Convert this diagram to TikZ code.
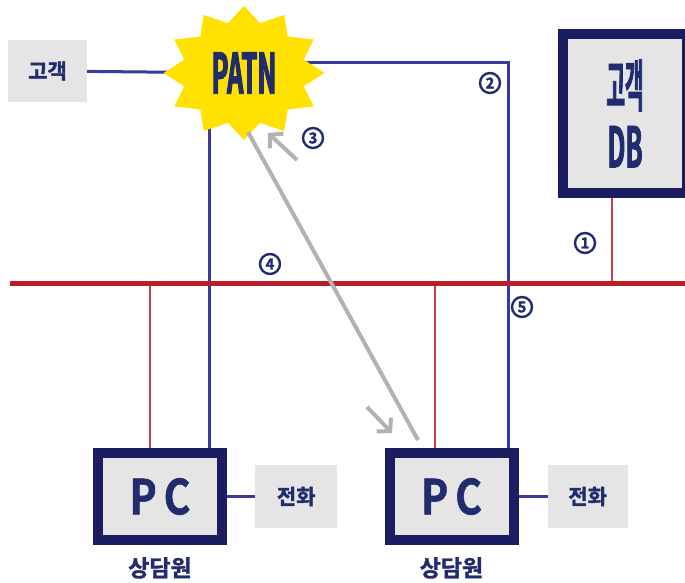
\documentclass[tikz,border=0pt]{standalone}
\usepackage{fontspec}
\usetikzlibrary{shapes.geometric, arrows.meta, backgrounds, positioning}

\newfontfamily\krfont{Noto Sans CJK KR Bold}[FakeBold=1.6]
\newfontfamily\krnarrow{Noto Sans CJK KR Bold}[FakeStretch=0.45, FakeBold=1.5]
\newfontfamily\patnfont{Noto Sans CJK KR Bold}[FakeStretch=0.38, FakeBold=1.5]
\newfontfamily\pcfont{Noto Sans CJK KR Bold}[FakeStretch=0.85, FakeBold=1.2]

\definecolor{navytext}{RGB}{32,44,110}
\definecolor{boxframe}{RGB}{28,28,96}
\definecolor{boxgray}{RGB}{229,229,229}
\definecolor{linkblue}{RGB}{58,58,158}
\definecolor{busred}{RGB}{183,30,42}
\definecolor{tapred}{RGB}{200,62,82}
\definecolor{signalgray}{RGB}{178,178,178}
\definecolor{staryellow}{RGB}{255,226,0}

\begin{document}
\begin{tikzpicture}[
    x=1pt, y=1pt,
    graybox/.style={fill=boxgray, inner sep=0pt, text=navytext, font=\krfont\fontsize{21}{24}\selectfont},
    pcbox/.style={draw=boxframe, line width=10pt, fill=boxgray, minimum width=124pt, minimum height=87pt, inner sep=0pt, text=navytext, font=\pcfont\fontsize{48}{52}\selectfont},
    dbbox/.style={draw=boxframe, line width=10pt, fill=boxgray, minimum width=124pt, minimum height=159pt, inner sep=0pt, align=center, text=navytext, font=\krnarrow\fontsize{56}{61}\selectfont},
    patnstar/.style={star, star points=12, star point ratio=1.3, fill=staryellow, minimum size=134pt, inner sep=0pt, text=navytext, font=\patnfont\fontsize{56}{60}\selectfont},
    caption/.style={text=navytext, inner sep=0pt, font=\krfont\fontsize{23}{26}\selectfont},
    numtag/.style={circle, draw=navytext, line width=2.4pt, fill=white, minimum size=20pt, inner sep=0pt, text=navytext, font=\krfont\fontsize{15}{15}\selectfont},
    link/.style={draw=linkblue, line width=3pt},
    bus/.style={draw=busred, line width=5pt},
    tap/.style={draw=tapred, line width=1.5pt},
    signal/.style={draw=signalgray, line width=4pt},
    sigarrow/.style={signal, -{Straight Barb[length=9pt, width=20pt]}}
]
   \useasboundingbox (0,0) rectangle (685,583);

   % Nodes
   \node[graybox, minimum width=79pt, minimum height=62pt] (cust) at (47.5,512) {고객};
   \begin{scope}[shift={(244,510)}, xscale=1.2]
     \node[patnstar, transform shape] (patn) at (0,0) {PATN};
   \end{scope}
   \node[dbbox] (db) at (625,469.5) {\scalebox{0.8}[1]{고객}\\DB};

   \node[pcbox] (pc1) at (160,86.5) {P\hspace{7pt}C};
   \node[pcbox] (pc2) at (451.5,86.5) {P\hspace{7pt}C};
   \node[graybox, minimum width=82pt, minimum height=63pt, right=28pt of pc1] (tel1) {전화};
   \node[graybox, minimum width=80pt, minimum height=63pt, right=29pt of pc2] (tel2) {전화};
   \node[caption, below=12pt of pc1] (agent1) {상담원};
   \node[caption, below=12pt of pc2] (agent2) {상담원};

   % Tap points and corners
   \coordinate (busL) at (10,299);
   \coordinate (busR) at (685,299);
   \coordinate (tapA) at (150,299);
   \coordinate (tapB) at (435,299);
   \coordinate (tapC) at (612,299);
   \coordinate (upA) at (209,299);
   \coordinate (corner) at (508,520);

   % Links (behind the boxes)
   \begin{scope}[on background layer]
     \draw[link] (cust) -- (patn.center);
     \draw[link] (patn.center |- corner) -- (corner) -- (corner |- pc2.north);
     \draw[link] (patn.center -| upA) -- (upA |- pc1.north);
     \draw[link] (pc1) -- (tel1);
     \draw[link] (pc2) -- (tel2);
     \draw[tap] (tapA) -- (tapA |- pc1.north);
     \draw[tap] (tapB) -- (tapB |- pc2.north);
     \draw[tap] (tapC) -- (tapC |- db.south);
     \draw[bus] (busL) -- (busR);
   \end{scope}

   % Screen pop signal
   \coordinate (sigA) at (248,451);
   \coordinate (sigB) at (418,143);
   \draw[signal] (sigA) -- (sigB);
   \coordinate (upFrom) at (297,423);
   \coordinate (upTo) at (268,450);
   \draw[sigarrow] (upFrom) -- (upTo);
   \coordinate (dnFrom) at (367,176);
   \coordinate (dnTo) at (392,150);
   \draw[sigarrow] (dnFrom) -- (dnTo);

   % Step numbers
   \node[numtag] (n1) at (585,340) {1};
   \node[numtag] (n2) at (490,500) {2};
   \node[numtag] (n3) at (313,445) {3};
   \node[numtag] (n4) at (270,319) {4};
   \node[numtag] (n5) at (522,276) {5};

\end{tikzpicture}
\end{document}
